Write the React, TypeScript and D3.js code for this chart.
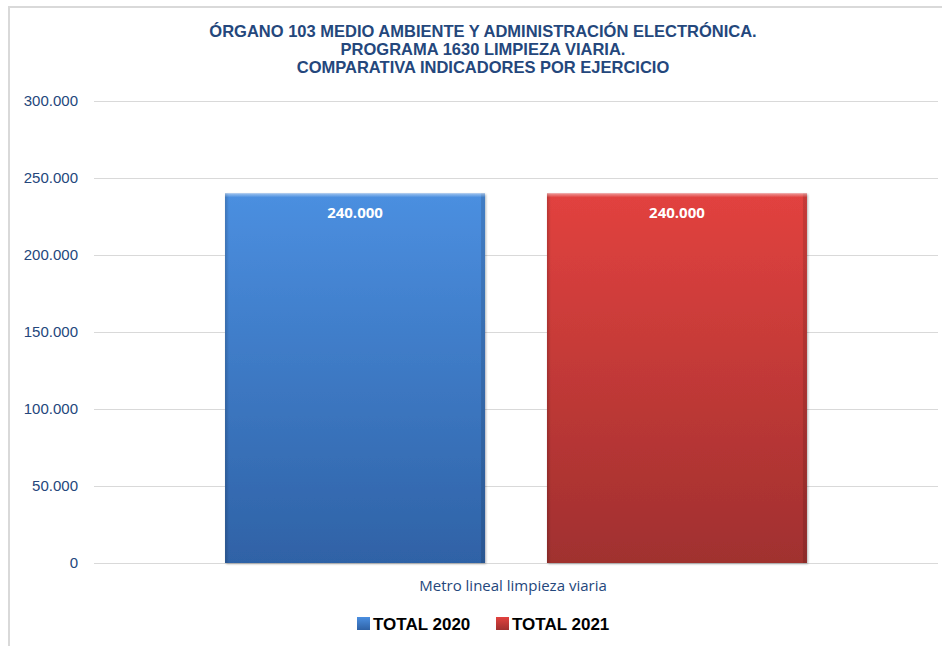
import React from 'react';
import * as d3 from 'd3';

const categories = ['Metro lineal limpieza viaria'];
const seriesNames = ['TOTAL 2020', 'TOTAL 2021'];
const values2020 = [240000];
const values2021 = [240000];
const yTicks = [0, 50000, 100000, 150000, 200000, 250000, 300000];
const titleLines = [
  'ÓRGANO 103 MEDIO AMBIENTE Y ADMINISTRACIÓN ELECTRÓNICA.',
  'PROGRAMA 1630 LIMPIEZA VIARIA.',
  'COMPARATIVA INDICADORES POR EJERCICIO',
];

const W = 942;
const H = 646;
const margin = { top: 101, right: 4, bottom: 83, left: 94 };
const seriesColors = [
  { top: '#4b8fe0', bottom: '#2f62a6', id: 'gBlue' },
  { top: '#e2423f', bottom: '#a0302f', id: 'gRed' },
];

const fmtNum = (v: number) =>
  v === 0 ? '0' : String(v).replace(/\B(?=(\d{3})+(?!\d))/g, '.');

export default function App() {
  const innerW = W - margin.left - margin.right;
  const innerH = H - margin.top - margin.bottom;

  const y = d3.scaleLinear().domain([0, 300000]).range([margin.top + innerH, margin.top]);
  const x0 = d3.scaleBand().domain(categories).range([margin.left, margin.left + innerW]);
  const x1 = d3
    .scaleBand()
    .domain(seriesNames)
    .range([0, x0.bandwidth()])
    .paddingInner(0.1925)
    .paddingOuter(0.407);

  const series = [values2020, values2021];

  return (
    <svg width={W} height={H} style={{ position: 'absolute', left: 0, top: 0, background: '#fff' }}>
      <defs>
        {seriesColors.map((c) => (
          <linearGradient key={c.id} id={c.id} x1="0" y1="0" x2="0" y2="1">
            <stop offset="0%" stopColor={c.top} />
            <stop offset="100%" stopColor={c.bottom} />
          </linearGradient>
        ))}
        <linearGradient id="bevelL" x1="0" y1="0" x2="1" y2="0">
          <stop offset="0" stopColor="#000" stopOpacity="0.18" />
          <stop offset="1" stopColor="#000" stopOpacity="0" />
        </linearGradient>
        <linearGradient id="bevelT" x1="0" y1="0" x2="0" y2="1">
          <stop offset="0" stopColor="#fff" stopOpacity="0.45" />
          <stop offset="1" stopColor="#fff" stopOpacity="0" />
        </linearGradient>
        <filter id="shadow" x="-5%" y="-5%" width="110%" height="110%">
          <feDropShadow dx="1" dy="1" stdDeviation="1" floodColor="#000" floodOpacity="0.3" />
        </filter>
      </defs>

      {/* chart border */}
      <path d={`M9,${H} V7 H${W}`} fill="none" stroke="#d9d9d9" strokeWidth={2} />

      {/* title */}
      <text
        textAnchor="middle"
        fontFamily="'Liberation Sans', Arial, sans-serif"
        fontWeight="bold"
        fontSize={16.5}
        fill="#24477c"
      >
        {titleLines.map((t, i) => (
          <tspan key={i} x={483} y={37 + i * 18}>
            {t}
          </tspan>
        ))}
      </text>

      {/* gridlines + ticks */}
      {yTicks.map((t) => (
        <g key={t}>
          <line
            x1={margin.left}
            x2={margin.left + innerW}
            y1={Math.round(y(t)) + 0.5}
            y2={Math.round(y(t)) + 0.5}
            stroke="#d9d9d9"
            strokeWidth={1}
          />
          <text
            x={78}
            y={y(t)}
            dy="0.35em"
            textAnchor="end"
            fontFamily="'Liberation Sans', Arial, sans-serif"
            fontSize={15}
            fill="#24477c"
          >
            {fmtNum(t)}
          </text>
        </g>
      ))}

      {/* bars */}
      {categories.map((cat, ci) =>
        seriesNames.map((s, si) => {
          const v = series[si][ci];
          const bx = (x0(cat) ?? 0) + (x1(s) ?? 0);
          const bw = x1.bandwidth();
          const by = y(v);
          const bh = y(0) - by;
          return (
            <g key={cat + s}>
              <rect x={bx} y={by} width={bw} height={bh} fill={`url(#${seriesColors[si].id})`} filter="url(#shadow)" />
              <rect x={bx} y={by} width={4} height={bh} fill="url(#bevelL)" />
              <rect x={bx + bw - 4} y={by} width={4} height={bh} fill="#000" opacity={0.12} />
              <rect x={bx} y={by} width={bw} height={4} fill="url(#bevelT)" />
              <text
                x={bx + bw / 2}
                y={by + 25}
                textAnchor="middle"
                fontFamily="'Open Sans', sans-serif"
                fontWeight="bold"
                fontSize={15}
                fill="#fff"
              >
                {fmtNum(v)}
              </text>
            </g>
          );
        })
      )}

      {/* category label */}
      {categories.map((cat) => (
        <text
          key={cat}
          x={(x0(cat) ?? 0) + x0.bandwidth() / 2 - 3}
          y={591}
          textAnchor="middle"
          fontFamily="'Open Sans', sans-serif"
          fontSize={15}
          fill="#24477c"
        >
          {cat}
        </text>
      ))}

      {/* legend */}
      {seriesNames.map((s, i) => {
        const lx = i === 0 ? 357 : 496;
        return (
          <g key={s}>
            <rect x={lx} y={617} width={13} height={13} fill={`url(#${seriesColors[i].id})`} />
            <text
              x={lx + 16}
              y={630}
              fontFamily="'Liberation Sans', Arial, sans-serif"
              fontWeight="bold"
              fontSize={17}
              fill="#000"
            >
              {s}
            </text>
          </g>
        );
      })}
    </svg>
  );
}
